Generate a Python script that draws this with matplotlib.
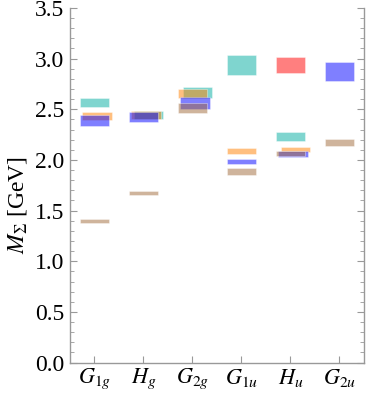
import numpy as np
import matplotlib
matplotlib.use('Agg')
import matplotlib.pyplot as plt
from matplotlib.ticker import MultipleLocator, FormatStrFormatter

### Data: irreps and mass bands (centre, half-width, small x shift)
irreps = [r'$G_{1g}$', r'$H_g$', r'$G_{2g}$', r'$G_{1u}$', r'$H_u$', r'$G_{2u}$']

cyan_mid = [2.570, 2.443, 2.663, 2.934, 2.229, np.nan]
cyan_err = [0.045, 0.040, 0.054, 0.100, 0.044, np.nan]
cyan_dx = [0.0, 0.1, 0.1, 0.0, 0.0, 0.0]

orange_mid = [2.436, 2.440, 2.654, 2.089, 2.104, np.nan]
orange_err = [0.038, 0.040, 0.045, 0.033, 0.022, np.nan]
orange_dx = [0.05, 0.05, 0.0, 0.0, 0.1, 0.0]

blue_mid = [2.390, 2.424, 2.562, 1.986, 2.060, 2.875]
blue_err = [0.057, 0.052, 0.062, 0.023, 0.030, 0.095]
blue_dx = [0.0, 0.0, 0.05, 0.0, 0.05, 0.0]

brown_mid = [1.398, 1.674, 2.516, 1.886, 2.066, 2.171]
brown_err = [0.020, 0.020, 0.050, 0.035, 0.023, 0.033]
brown_dx = [0.0, 0.0, 0.0, 0.0, 0.0, 0.0]

red_mid = [np.nan, np.nan, np.nan, np.nan, 2.935, np.nan]
red_err = [np.nan, np.nan, np.nan, np.nan, 0.079, np.nan]
red_dx = [0.0, 0.0, 0.0, 0.0, 0.0, 0.0]

### Style
plt.rcParams['font.family'] = ['Liberation Serif', 'DejaVu Serif']
plt.rcParams['mathtext.fontset'] = 'stix'

fig = plt.figure(figsize=(3.74, 3.95), dpi=100)
ax = fig.add_axes([0.187, 0.082, 0.786, 0.898])

xpos = np.arange(1, len(irreps) + 1)
series = [(cyan_mid, cyan_err, cyan_dx, '#00ada1'),
          (orange_mid, orange_err, orange_dx, '#ff8000'),
          (blue_mid, blue_err, blue_dx, '#0000ff'),
          (brown_mid, brown_err, brown_dx, '#a06a3a'),
          (red_mid, red_err, red_dx, '#ff0000')]

for mid, err, dx, col in series:
    mid = np.array(mid)
    err = np.array(err)
    ok = ~np.isnan(mid)
    ax.bar(xpos[ok] + np.array(dx)[ok], 2 * err[ok], width=0.6,
           bottom=mid[ok] - err[ok], color=col, alpha=0.5,
           edgecolor='white', linewidth=0.5, zorder=2)

ax.set_xlim(0.5, 6.5)
ax.set_ylim(0, 3.5)
ax.set_xticks(xpos)
ax.set_xticklabels(irreps, fontsize=16)
ax.yaxis.set_major_locator(MultipleLocator(0.5))
ax.yaxis.set_minor_locator(MultipleLocator(0.1))
ax.yaxis.set_major_formatter(FormatStrFormatter('%.1f'))
ax.set_ylabel(r'$M_{\mathit{\Sigma}}$ [GeV]', fontsize=17)
ax.yaxis.set_label_coords(-0.14, 0.445)

for loc in ['left', 'right', 'bottom']:
    ax.spines[loc].set_color('#999999')
    ax.spines[loc].set_linewidth(1.0)
ax.spines['top'].set_visible(False)

ax.tick_params(axis='y', which='both', direction='in', left=True, right=True,
               color='#999999', pad=4, labelsize=17)
ax.tick_params(axis='y', which='major', length=5, width=0.8)
ax.tick_params(axis='y', which='minor', length=3, width=0.6)
ax.tick_params(axis='x', which='major', direction='in', length=5, width=0.8,
               color='#999999', top=False, pad=3)

plt.savefig('out.png', dpi=100)
